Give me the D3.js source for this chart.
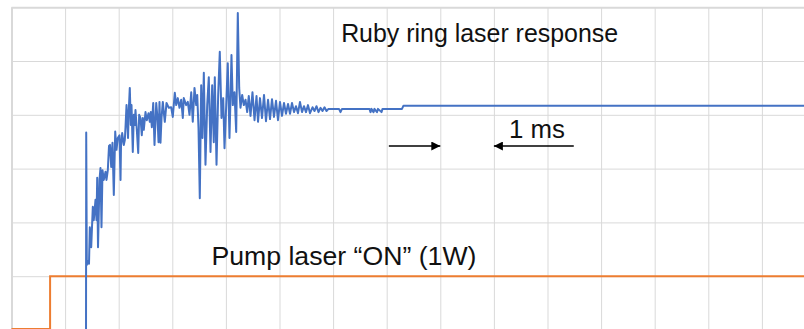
<!DOCTYPE html>
<html>
<head>
<meta charset="utf-8">
<script src="https://d3js.org/d3.v7.min.js"></script>
<style>
  body { margin: 0; background: #fff; }
  svg { display: block; font-family: "Liberation Sans", Arial, sans-serif; }
</style>
</head>
<body>
<svg width="804" height="329"></svg>
<script>
// time in ms, signal in scope divisions
var rubyTime = [0, 1.39, 1.394, 1.405, 1.427, 1.446, 1.461, 1.487, 1.517, 1.535, 1.567, 1.586, 1.599, 1.614, 1.642,
  1.660, 1.679, 1.698, 1.722, 1.754, 1.772, 1.797, 1.819, 1.838, 1.860, 1.884, 1.909, 1.935, 1.959, 1.983,
  2.015, 2.034, 2.043, 2.065, 2.095, 2.114, 2.127, 2.146, 2.159, 2.174, 2.188, 2.207, 2.226, 2.239, 2.263,
  2.282, 2.300, 2.313, 2.338, 2.364, 2.382, 2.407, 2.431, 2.450, 2.468, 2.500, 2.524, 2.556, 2.580, 2.599,
  2.618, 2.644, 2.668, 2.700, 2.724, 2.743, 2.761, 2.780, 2.799, 2.823, 2.841, 2.860, 2.892, 2.935, 2.979,
  3.009, 3.047, 3.073, 3.103, 3.134, 3.166, 3.196, 3.214, 3.259, 3.289, 3.321, 3.353, 3.382, 3.414, 3.446,
  3.465, 3.489, 3.513, 3.539, 3.563, 3.588, 3.619, 3.651, 3.681, 3.713, 3.744, 3.774, 3.793, 3.825, 3.856,
  3.886, 3.918, 3.950, 3.974, 4.006, 4.035, 4.067, 4.086, 4.104, 4.129, 4.160, 4.192, 4.222, 4.248, 4.272,
  4.304, 4.334, 4.366, 4.397, 4.427, 4.459, 4.496, 4.534, 4.571, 4.599, 4.636, 4.674, 4.711, 4.748, 4.786,
  4.823, 4.860, 4.897, 4.935, 4.972, 5.009, 5.047, 5.084, 5.121, 5.159, 5.196, 5.233, 5.271, 5.308, 5.345,
  5.382, 5.420, 5.457, 5.494, 5.532, 5.569, 5.616, 5.653, 5.690, 5.728, 5.765, 5.802, 5.840, 5.877, 5.914,
  6.110, 6.138, 6.166, 6.679, 6.698, 6.716, 6.754, 6.772, 6.819, 6.838, 6.903, 6.922, 7.285, 7.313, 14.8];
var rubySignal = [-0.3, -0.3, 3.67, 1.21, 1.28, 1.23, 1.91, 1.54, 2.29, 2.04, 2.42, 2.04, 2.83, 1.54, 2.79,
  3.01, 1.91, 2.97, 2.79, 2.94, 2.79, 2.97, 3.42, 3.44, 3.03, 3.48, 2.51, 3.69, 3.35, 3.57,
  3.62, 2.79, 3.42, 3.66, 3.44, 3.53, 3.77, 4.18, 3.90, 3.57, 4.09, 4.50, 3.81, 4.18, 3.31,
  4.00, 3.81, 4.09, 3.72, 3.29, 4.00, 3.94, 3.62, 3.94, 3.72, 4.05, 3.90, 4.03, 3.87, 4.05,
  3.77, 4.22, 3.44, 4.22, 3.94, 3.49, 4.24, 3.48, 3.94, 4.24, 4.05, 3.87, 4.22, 4.13, 4.14,
  3.96, 4.41, 4.18, 4.31, 4.13, 4.28, 3.94, 4.31, 4.18, 4.24, 4.00, 4.42, 3.87, 4.50, 4.18,
  4.37, 3.75, 2.45, 4.55, 3.57, 4.78, 3.07, 4.18, 4.70, 3.31, 4.55, 3.49, 4.70, 3.07, 4.37,
  5.17, 3.94, 4.31, 3.38, 4.18, 4.96, 3.57, 4.31, 5.11, 4.18, 4.42, 3.68, 5.89, 4.50, 4.13,
  4.37, 4.18, 4.28, 4.05, 4.35, 3.98, 4.42, 3.90, 4.35, 3.87, 4.31, 3.94, 4.37, 3.88, 4.28,
  3.92, 4.29, 3.96, 4.26, 3.90, 4.24, 3.98, 4.22, 4.02, 4.20, 4.02, 4.22, 4.05, 4.16, 4.03,
  4.24, 4.05, 4.16, 4.05, 4.18, 4.03, 4.14, 4.07, 4.16, 4.05, 4.13, 4.07, 4.14, 4.07, 4.11,
  4.11, 4.05, 4.11, 4.11, 4.05, 4.11, 4.05, 4.11, 4.05, 4.11, 4.05, 4.11, 4.11, 4.17, 4.17];

var pumpTime = [0, 0.72, 0.72, 14.8];
var pumpSignal = [0.02, 0.02, 1.0, 1.0];

var xTicks = [0, 1, 2, 3, 4, 5, 6, 7, 8, 9, 10, 11, 12, 13, 14];
var yTicks = [0, 1, 2, 3, 4, 5, 6];

var svg = d3.select("svg"),
    width = +svg.attr("width"),
    height = +svg.attr("height");

var x = d3.scaleLinear().domain([0, 15]).range([11.5, 11.5 + 53.6 * 15]);
var y = d3.scaleLinear().domain([0, 6]).range([330, 7.2]);

// grid
svg.append("g")
    .attr("transform", "translate(0," + y(0) + ")")
    .call(d3.axisBottom(x).tickValues(xTicks).tickSize(-(y(0) - y(6))).tickFormat(""))
    .call(function (g) { g.select(".domain").remove(); })
    .selectAll("line")
    .attr("stroke", "#d9d9d9")
    .attr("stroke-width", function (d) { return d === 0 ? 2 : 1; });

svg.append("g")
    .attr("transform", "translate(" + x(0) + ",0)")
    .call(d3.axisLeft(y).tickValues(yTicks).tickSize(-(x(15) - x(0))).tickFormat(""))
    .call(function (g) { g.select(".domain").remove(); })
    .selectAll("line")
    .attr("stroke", "#d9d9d9")
    .attr("stroke-width", function (d) { return d === 6 ? 2 : 1; });

var line = d3.line()
    .x(function (d) { return x(d[0]); })
    .y(function (d) { return y(d[1]); });

svg.append("path")
    .datum(d3.zip(pumpTime, pumpSignal))
    .attr("fill", "none")
    .attr("stroke", "#ED7D31")
    .attr("stroke-width", 2)
    .attr("d", line);

svg.append("path")
    .datum(d3.zip(rubyTime, rubySignal))
    .attr("fill", "none")
    .attr("stroke", "#4472C4")
    .attr("stroke-width", 2)
    .attr("stroke-linejoin", "round")
    .attr("d", line);

// labels
function label(t, v, txt, len) {
    svg.append("text")
        .attr("x", x(t))
        .attr("y", y(v))
        .attr("font-size", 25)
        .attr("fill", "#111")
        .attr("textLength", len)
        .attr("lengthAdjust", "spacingAndGlyphs")
        .text(txt);
}
label(6.15, 5.36, "Ruby ring laser response", 277);
label(3.73, 1.21, "Pump laser \u201cON\u201d (1W)", 265);
label(9.28, 3.57, "1 ms", 56);

// 1 ms arrows
svg.append("defs").append("marker")
    .attr("id", "head")
    .attr("viewBox", "0 0 10 10")
    .attr("refX", 10).attr("refY", 5)
    .attr("markerUnits", "userSpaceOnUse")
    .attr("markerWidth", 13).attr("markerHeight", 9)
    .attr("orient", "auto")
    .append("path")
    .attr("d", "M0,0L10,5L0,10Z")
    .attr("fill", "#000");

var arrows = [[7.04, 8.0], [10.49, 9.0]];
svg.selectAll(".arrow")
    .data(arrows)
    .enter()
    .append("line")
    .attr("x1", function (d) { return x(d[0]); })
    .attr("x2", function (d) { return x(d[1]); })
    .attr("y1", y(3.42))
    .attr("y2", y(3.42))
    .attr("stroke", "#000")
    .attr("stroke-width", 1.3)
    .attr("marker-end", "url(#head)");
</script>
</body>
</html>
